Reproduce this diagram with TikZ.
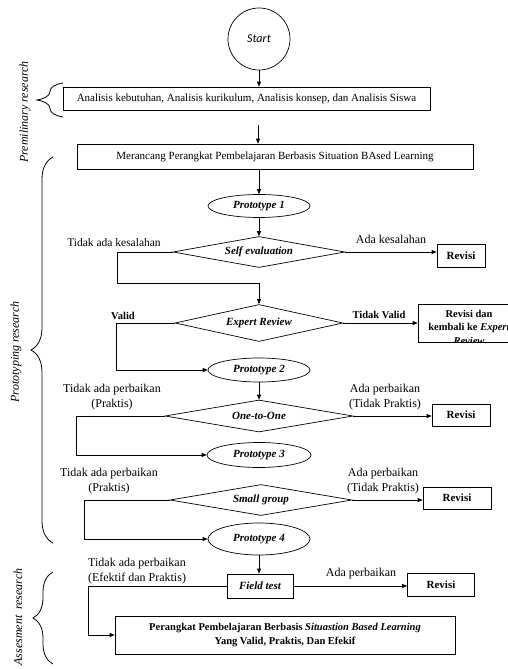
\documentclass[tikz,border=0pt]{standalone}
\usepackage{fontspec}
\setmainfont{Liberation Serif}
\newfontfamily\calib{Carlito}
\usetikzlibrary{shapes.geometric,arrows.meta,decorations.pathreplacing}
\begin{document}
\begin{tikzpicture}[x=1pt,y=-1pt,line width=0.7pt,
  arr/.style={-{Triangle[length=5pt,width=4pt]}},
  boxx/.style={draw,rectangle,inner sep=0pt,font=\fontsize{11}{13}\selectfont},
  rev/.style={draw,rectangle,inner sep=0pt,font=\bfseries\fontsize{11}{13}\selectfont},
  proto/.style={draw,ellipse,inner sep=0pt,minimum width=102,minimum height=24,font=\bfseries\itshape\fontsize{11}{13}\selectfont},
  dia/.style={draw,diamond,aspect=9,inner sep=0pt,font=\bfseries\itshape\fontsize{11}{13}\selectfont},
  lab/.style={font=\fontsize{12}{15}\selectfont,inner sep=0pt,align=center},
  side/.style={rotate=90,font=\itshape\fontsize{12}{14}\selectfont,inner sep=0pt},
  brc/.style={decorate,line width=0.8pt}]
\useasboundingbox (0,0) rectangle (508,669);
% side labels and braces
\node[side] (t1) at (25,112) {Premilinary research};
\node[side] (t2) at (16,352) {Prototyping research};
\node[side] (t3) at (18,617) {Assesment\ \ research};
\draw[brc,decoration={brace,amplitude=26pt}] (63,117) -- (63,83);
\draw[brc,decoration={brace,amplitude=22pt}] (53,543) -- (53,157);
\draw[brc,decoration={brace,amplitude=20pt}] (53,664) -- (53,572);
% nodes
\node[draw,circle,minimum size=62,inner sep=0pt,font=\calib\itshape\fontsize{12}{14}\selectfont] (start) at (259,39) {Start};
\node[boxx,minimum width=367,minimum height=23] (a1) at (246.5,98.5) {Analisis kebutuhan, Analisis kurikulum, Analisis konsep, dan Analisis Siswa};
\coordinate (c1) at (258,125);
\node[boxx,minimum width=396,minimum height=25] (a2) at (275,156.5) {Merancang Perangkat Pembelajaran Berbasis Situation BAsed Learning};
\node[proto,minimum height=23] (p1) at (259,206) {Prototype 1};
\node[dia,minimum width=172,minimum height=31] (se) at (259,252) {Self evaluation};
\node[rev,minimum width=48,minimum height=23] (r1) at (461,256) {Revisi};
\coordinate (j1) at (259,283);
\node[dia,minimum width=168,minimum height=37] (er) at (259,323) {Expert Review};
\node[rev,minimum width=102,minimum height=38] (r2) at (469,323) {};
\begin{scope}
\clip (r2.north west) rectangle (r2.south east);
\node[align=center,inner sep=0pt,font=\bfseries\fontsize{10.5}{13.5}\selectfont] (r2t) at (469,327) {Revisi dan\\kembali ke \textit{Expert}\\\textit{Review}};
\end{scope}
\node[proto] (p2) at (259,370) {Prototype 2};
\node[dia,minimum width=188,minimum height=32] (oo) at (259,416) {One-to-One};
\node[rev,minimum width=58,minimum height=22] (r3) at (461,415) {Revisi};
\node[proto,minimum width=104,minimum height=25] (p3) at (259,455) {Prototype 3};
\node[dia,minimum width=182,minimum height=31] (sg) at (261,500) {Small group};
\node[rev,minimum width=68,minimum height=22] (r4) at (457,498) {Revisi};
\node[proto,minimum height=32] (p4) at (259,539) {Prototype 4};
\node[rev,font=\bfseries\itshape\fontsize{11}{13}\selectfont,minimum width=66,minimum height=24] (ft) at (260,586) {Field test};
\node[rev,minimum width=67,minimum height=23] (r5) at (441,585) {Revisi};
\node[rev,minimum width=340,minimum height=38,align=center,font=\bfseries\fontsize{10.5}{14}\selectfont] (fin) at (285,635) {Perangkat Pembelajaran Berbasis \textit{Situastion Based Learning}\\Yang Valid, Praktis, Dan Efekif};
% labels
\node[lab,font=\fontsize{11.5}{14}\selectfont] (l1) at (114,243) {Tidak ada kesalahan};
\node[lab] (l2) at (391,239) {Ada kesalahan};
\node[lab,font=\bfseries\fontsize{10.5}{12}\selectfont] (l3) at (123,316) {Valid};
\node[lab,font=\bfseries\fontsize{10.5}{12}\selectfont] (l4) at (379,315) {Tidak Valid};
\node[lab] (l5) at (112,397) {Tidak ada perbaikan\\(Praktis)};
\node[lab] (l6) at (385,397) {Ada perbaikan\\(Tidak Praktis)};
\node[lab] (l7) at (109,481) {Tidak ada perbaikan\\(Praktis)};
\node[lab] (l8) at (383,481) {Ada perbaikan\\(Tidak Praktis)};
\node[lab] (l9) at (137,571) {Tidak ada perbaikan\\(Efektif dan Praktis)};
\node[lab] (l10) at (361,574) {Ada perbaikan};
% connectors
\draw[arr] (start.south) -- (start.south |- a1.north);
\draw[arr] (c1) -- (c1 |- a2.north);
\draw[arr] (p1.north |- a2.south) -- (p1.north);
\draw[arr] (p1.south) -- (se.north);
\draw[arr] (se.east) -- (se.east -| r1.west);
\draw (se.west) -- ++(-55,0) |- (j1);
\draw[arr] (j1) -- (er.north);
\draw[arr] (er.east) -- (er.east -| r2.west);
\draw[arr] (er.west) -- ++(-58,0) |- (p2.west);
\draw[arr] (p2.south) -- (oo.north);
\draw[arr] (oo.east) -- (oo.east -| r3.west);
\draw[arr] (oo.west) -- ++(-88,0) |- (p3.west);
\draw[arr] (sg.east) -- (sg.east -| r4.west);
\draw[arr] (sg.west) -- ++(-85,0) |- (p4.west);
\draw[arr] (p4.south) -- (p4.south |- ft.north);
\draw[arr] (ft.east) -- (ft.east -| r5.west);
\draw[arr] (ft.west) -- ++(-138,0) |- (fin.west);
\end{tikzpicture}
\end{document}
